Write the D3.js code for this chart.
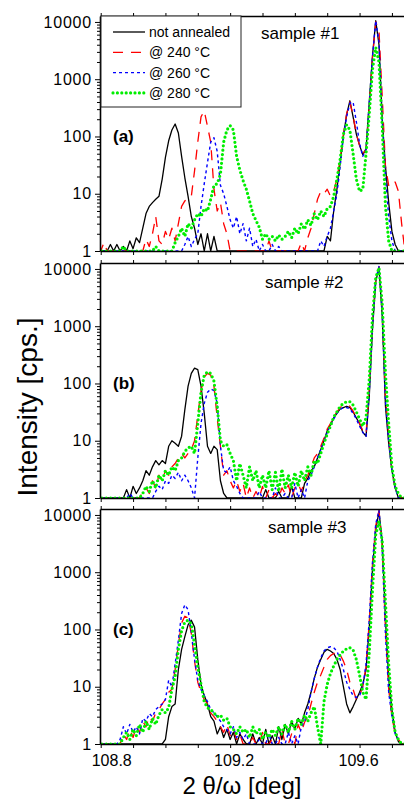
<!DOCTYPE html>
<html>
<head>
<meta charset="utf-8">
<script src="https://cdn.jsdelivr.net/npm/d3@7"></script>
<style>
  body { margin: 0; background: #fff; }
  svg { display: block; font-family: "Liberation Sans", Arial, sans-serif; }
</style>
</head>
<body>
<svg id="chart" width="404" height="800"></svg>
<script>
// measurement grid, 2theta/omega in degrees
const twoTheta = [
  108.79, 108.80, 108.81, 108.82, 108.83, 108.84, 108.85, 108.86, 108.87, 108.88,
  108.89, 108.90, 108.91, 108.92, 108.93, 108.94, 108.95, 108.96, 108.97, 108.98,
  108.99, 109.00, 109.01, 109.02, 109.03, 109.04, 109.05, 109.06, 109.07, 109.08,
  109.09, 109.10, 109.11, 109.12, 109.13, 109.14, 109.15, 109.16, 109.17, 109.18,
  109.19, 109.20, 109.21, 109.22, 109.23, 109.24, 109.25, 109.26, 109.27, 109.28,
  109.29, 109.30, 109.31, 109.32, 109.33, 109.34, 109.35, 109.36, 109.37, 109.38,
  109.39, 109.40, 109.41, 109.42, 109.43, 109.44, 109.45, 109.46, 109.47, 109.48,
  109.49, 109.50, 109.51, 109.52, 109.53, 109.54, 109.55, 109.56, 109.57, 109.58,
  109.59, 109.60, 109.61, 109.62, 109.63, 109.64, 109.65, 109.66, 109.67, 109.68,
  109.69, 109.70, 109.71, 109.72, 109.73, 109.74
];

const seriesNames = ['not annealed', '@ 240 °C', '@ 260 °C', '@ 280 °C'];
const sampleNames = ['sample #1', 'sample #2', 'sample #3'];
const panelTags = ['(a)', '(b)', '(c)'];
const yTickValues = [1, 10, 100, 1000, 10000];
const xTickValues = [108.8, 108.9, 109.0, 109.1, 109.2, 109.3, 109.4, 109.5, 109.6, 109.7];
const xLabelValues = [108.8, 109.2, 109.6];

// sample #1 intensities [cps.]
const aBlack = [
  1, 1, 1, 1, 1.3, 1, 1.3, 1, 1.2, 1,
  1.5, 1.1, 1.7, 1.4, 2.5, 4.5, 6, 7, 8, 9,
  18, 43, 84, 130, 165, 115, 45, 19, 9, 4,
  2.5, 1.3, 2, 1, 2, 1, 1.8, 1, 1, 1,
  1, 1, 1, 1, 1, 1, 1, 1, 1, 1,
  1, 1, 1, 1, 1, 1, 1, 1, 1, 1,
  1, 1, 1, 1, 1, 1, 1, 1, 1, 1,
  1, 1.8, 1.5, 5, 12, 35, 100, 240, 420, 220,
  110, 70, 48, 60, 400, 2600, 10500, 4000, 200, 30,
  7, 2.2, 1.3, 1, 1, 1
];
const aRed = [
  1, 1, 1.4, 1, 1, 1, 1, 1, 1, 1,
  1, 1, 1, 1, 1, 1.6, 1.2, 2, 4, 1.5,
  1.3, 2.2, 1.6, 2.5, 1.5, 3, 6, 7.5, 8, 9,
  25, 80, 220, 280, 150, 80, 12, 5, 7, 3,
  2, 1, 1, 1, 1, 1, 1, 1, 1, 1,
  1, 1, 1, 1.5, 1, 1, 1, 1, 1, 1,
  1, 1, 1, 1.4, 1, 1.7, 2.5, 4.5, 8, 11,
  10, 12, 9, 11, 18, 40, 110, 250, 400, 230,
  110, 70, 50, 60, 350, 2400, 10000, 7000, 500, 30,
  14, 17, 16, 11, 3, 1
];
const aBlue = [
  1, 1, 1, 1, 1, 1, 1, 1, 1, 1,
  1, 1, 1, 1, 1, 1, 1, 1, 1, 1,
  1, 1, 1, 1, 1, 1, 1, 1.3, 1.8, 1.2,
  1.6, 2, 6, 15, 35, 80, 95, 55, 14, 10,
  6, 3.5, 2.5, 4, 2, 3, 1.5, 2.5, 1.2, 1.6,
  1, 1.3, 1, 1, 1.3, 1, 1.2, 1, 1, 1,
  1, 1, 1, 1, 1, 1, 1, 1, 1, 1.5,
  1.2, 1.8, 2.5, 5, 10, 30, 100, 220, 380, 400,
  180, 75, 45, 60, 380, 2500, 10500, 4500, 200, 20,
  4, 1.5, 1, 1, 1, 1
];
const aGreen = [
  1, 1, 1, 1, 1, 1, 1, 1, 1.2, 1,
  1, 1, 1, 1, 1, 1, 1, 1, 1.2, 1,
  1, 1, 1, 1, 1.4, 1.8, 2.5, 1.8, 3, 2.5,
  3.5, 4.5, 4, 5.5, 5, 8, 14, 15, 22, 80,
  130, 155, 130, 45, 26, 17, 12, 7.5, 4.5, 3.4,
  2.6, 1.6, 2, 1.6, 1.8, 1.5, 1.9, 1.6, 1.8, 2.2,
  1.7, 2.5, 2, 3, 2.4, 3.5, 2.8, 4.5, 3.5, 5,
  4, 5.5, 6, 9, 18, 40, 110, 160, 130, 50,
  18, 11, 12, 50, 250, 1500, 3600, 2000, 150, 6,
  1.5, 1, 1, 1, 1, 1
];

// sample #2
const bBlack = [
  1, 1, 1, 1, 1, 1, 1, 1, 1, 1.4,
  1, 1.6, 1.2, 1.5, 2, 3, 2.5, 3.5, 4.5, 3.8,
  4.5, 4, 8, 10, 9, 8, 12, 35, 90, 150,
  185, 175, 90, 30, 8, 6, 8, 7, 2, 1.2,
  1, 1, 1, 1, 1, 1, 1, 1, 1, 1,
  1, 1, 1.4, 1, 1, 1, 1.3, 1, 1, 1,
  1.6, 1, 1, 1, 1.8, 2.2, 3, 3.5, 5, 7,
  10, 15, 19, 25, 30, 36, 38, 40, 38, 32,
  25, 20, 14, 12, 60, 900, 6000, 10500, 1500, 40,
  9, 3, 1.5, 1, 1, 1
];
const bRed = [
  1, 1, 1, 1, 1, 1, 1, 1, 1, 1,
  1, 1, 1, 1, 1.3, 1.5, 1.2, 2, 1.5, 2.5,
  2, 3, 2.5, 3.5, 4, 5, 6, 5, 6, 7,
  10, 28, 75, 130, 150, 140, 90, 25, 8, 2.5,
  3, 2, 1.5, 2, 1.3, 1.8, 1, 1.5, 1, 1.3,
  1, 1.6, 1, 1.4, 1, 1.2, 1, 1.5, 1.2, 1.7,
  1, 1.5, 1.8, 1.3, 2, 2.5, 3.5, 5, 6, 8,
  11, 16, 20, 26, 32, 38, 42, 42, 40, 33,
  25, 20, 15, 13, 80, 1100, 6500, 11000, 2000, 60,
  12, 3, 1.5, 1.2, 1, 1
];
const bBlue = [
  1, 1, 1, 1, 1, 1, 1, 1, 1, 1,
  1.2, 1, 1, 1, 1, 1, 1, 1, 1.3, 1.6,
  1.4, 2, 1.8, 2.5, 2.2, 2.8, 2, 2.5, 2, 1.5,
  1, 5, 20, 45, 70, 80, 75, 45, 8, 3,
  2.8, 3.5, 2, 1.6, 1.2, 1, 1, 1, 1, 1,
  1.3, 1, 1, 1, 1, 1.5, 1, 1, 1.2, 1,
  1, 1.8, 1, 1.4, 1, 2, 2.5, 3.5, 5, 7,
  10, 14, 19, 24, 30, 35, 38, 38, 36, 30,
  24, 18, 14, 12, 70, 1000, 6500, 11000, 1800, 50,
  10, 3, 1.5, 1, 1, 1
];
const bGreen = [
  1, 1, 1, 1, 1, 1, 1, 1, 1, 1,
  1, 1, 1, 1, 1.2, 1.6, 1.3, 2, 1.5, 2.5,
  2, 3, 2.5, 3.5, 3, 4.5, 5, 6.5, 7.5, 8,
  6, 20, 70, 140, 160, 150, 110, 40, 10, 8,
  8.5, 6, 4.5, 2, 4, 2.5, 1.5, 3.5, 2, 3,
  1.5, 2.5, 1.5, 3, 1.4, 2.8, 1.3, 3.2, 1.5, 2.5,
  1.5, 2.8, 1.6, 3, 2, 3.5, 2.5, 4.5, 4, 6,
  9, 13, 18, 26, 32, 40, 45, 48, 48, 42,
  32, 24, 18, 25, 120, 1500, 7000, 10500, 2500, 150,
  20, 3.5, 1.6, 1.2, 1, 1
];

// sample #3
const cBlack = [
  1, 1, 1, 1, 1, 1, 1, 1, 1, 1,
  1, 1, 1, 1, 1, 1, 1, 1, 1, 1,
  1, 1.2, 3, 4.5, 5, 20, 45, 75, 120, 145,
  110, 30, 11, 7, 5, 3, 2.5, 1.5, 2, 1.3,
  1.8, 1.2, 1.6, 1, 1.5, 1.2, 1, 1, 1.5, 1,
  1.3, 1, 1.8, 1, 1.4, 1, 2, 1.2, 2.2, 1.5,
  2.5, 1.8, 2.8, 2.2, 3.5, 5, 8, 14, 22, 30,
  40, 45, 42, 38, 30, 20, 10, 5, 3.5, 4.5,
  6, 8, 11, 20, 110, 1200, 5500, 11500, 3500, 150,
  14, 4, 1.6, 1.1, 1, 1
];
const cRed = [
  1, 1, 1, 1, 1, 1, 1, 1, 1.5, 1.2,
  1.8, 1.3, 2, 1.6, 2.5, 2, 3, 2.5, 3.5, 4,
  5, 6, 8, 9, 20, 55, 130, 170, 160, 85,
  28, 12, 8, 6, 5, 3.5, 3, 2.5, 2, 1.6,
  2.2, 1.4, 1.8, 1.2, 1.5, 1, 1, 1, 1.3, 1,
  1, 1.6, 1, 1, 1.2, 1, 1, 1.8, 1, 1,
  1.5, 1, 2.2, 1.6, 2.4, 3, 5, 8, 12, 16,
  22, 30, 35, 38, 40, 36, 28, 20, 12, 9,
  6, 7, 10, 22, 140, 1400, 6500, 12000, 2800, 100,
  9, 3, 1.5, 1.2, 1, 1
];
const cBlue = [
  1, 1, 1, 1, 1, 1, 1, 1.2, 2, 1.5,
  2.2, 1.6, 2, 1.5, 2.8, 2.5, 3.4, 3, 4, 4.5,
  5, 6, 13, 10, 25, 65, 190, 270, 220, 90,
  30, 13, 9, 7, 5.5, 4, 3.5, 3, 2.5, 2,
  1.8, 1.5, 2, 1.3, 1.6, 1.2, 1.5, 1, 1, 1,
  1.2, 1, 1, 1.5, 1, 1, 1.3, 1, 1, 1.6,
  1, 1.4, 1, 2, 2.5, 4, 8, 14, 22, 32,
  42, 48, 50, 48, 42, 30, 20, 12, 9, 7,
  6.5, 7, 10, 25, 150, 1500, 7000, 12000, 2500, 80,
  8, 3, 1.5, 1.2, 1, 1
];
const cGreen = [
  1, 1, 1, 1, 1, 1, 1, 1, 1.3, 1.6,
  1.2, 1.8, 1.4, 2.2, 1.6, 2.5, 1.8, 2.8, 2.2, 3.2,
  4, 3.5, 4.3, 9, 15, 45, 95, 135, 145, 125,
  55, 22, 11, 5.5, 4.3, 4, 3.5, 3, 3.2, 2.6,
  2.8, 2, 1.8, 1.5, 2, 1.6, 1.8, 1.3, 2, 1.5,
  1.8, 1.2, 1.6, 1.3, 1.8, 1.4, 2, 1.5, 2.2, 1.6,
  2.5, 1.8, 2.8, 2.2, 3.2, 2.5, 3.5, 4.5, 2, 1,
  5.5, 11, 17, 23, 30, 36, 42, 46, 48, 44,
  30, 16, 8, 6, 40, 500, 4500, 7800, 3500, 300,
  25, 4, 1.6, 1.2, 1, 1
];

const panelData = [
  [aBlack, aRed, aBlue, aGreen],
  [bBlack, bRed, bBlue, bGreen],
  [cBlack, cRed, cBlue, cGreen],
];

// line styles, same order as seriesNames
const styles = [
  { color: '#000000', width: 1.3, dash: null, cap: 'butt' },
  { color: '#ff0000', width: 1.3, dash: '10 8', cap: 'butt' },
  { color: '#0000ff', width: 1.4, dash: '3 3', cap: 'butt' },
  { color: '#00ee00', width: 3.2, dash: '0 4.4', cap: 'round' },
];

const svg = d3.select('#chart');
const plotLeft = 100;
const plotRight = 404;
const panelH = 235;
const panelTops = [16, 263, 509];

const x = d3.scaleLinear().domain([108.7978, 109.7373]).range([plotLeft, plotRight]);

const minorTicks = [];
[1, 10, 100, 1000].forEach((dec) => {
  for (let k = 2; k <= 9; k++) minorTicks.push(dec * k);
});

panelData.forEach((series, p) => {
  const top = panelTops[p];
  const bottom = top + panelH;
  const y = d3.scaleLog().domain([1, 12700]).range([bottom, top]).clamp(true);

  const clipId = `clip-${p}`;
  svg.append('clipPath').attr('id', clipId)
    .append('rect')
    .attr('x', plotLeft).attr('y', top - 1)
    .attr('width', plotRight - plotLeft + 5).attr('height', panelH + 1);

  const line = d3.line()
    .x((d, i) => x(twoTheta[i]))
    .y((d) => y(d));

  const g = svg.append('g').attr('clip-path', `url(#${clipId})`);
  series.forEach((vals, s) => {
    const st = styles[s];
    g.append('path')
      .datum(vals)
      .attr('d', line)
      .attr('fill', 'none')
      .attr('stroke', st.color)
      .attr('stroke-width', st.width)
      .attr('stroke-dasharray', st.dash)
      .attr('stroke-linecap', st.cap)
      .attr('stroke-linejoin', 'round');
  });

  // left axis, major + minor ticks
  const yAxis = svg.append('g')
    .attr('transform', `translate(${plotLeft},0)`)
    .call(d3.axisLeft(y).tickValues(yTickValues).tickFormat(d3.format('d')).tickSize(5).tickSizeOuter(0).tickPadding(3));
  yAxis.selectAll('text')
    .attr('font-size', 16)
    .attr('letter-spacing', 0.8)
    .attr('font-family', '"Liberation Sans", Arial, sans-serif')
    .attr('fill', '#000');
  svg.append('g')
    .attr('transform', `translate(${plotLeft},0)`)
    .call(d3.axisLeft(y).tickValues(minorTicks).tickFormat('').tickSize(3).tickSizeOuter(0))
    .select('.domain').remove();

  // bottom axis
  svg.append('g')
    .attr('transform', `translate(0,${bottom})`)
    .call(d3.axisBottom(x).tickValues(xTickValues).tickFormat('').tickSize(4).tickSizeOuter(0));

  // top border with small ticks
  svg.append('g')
    .attr('transform', `translate(0,${top})`)
    .call(d3.axisTop(x).tickValues(xTickValues).tickFormat('').tickSize(3).tickSizeOuter(0));

  svg.selectAll('.domain').attr('stroke', '#000').attr('stroke-width', 1.6);
  svg.selectAll('.tick line').attr('stroke', '#000').attr('stroke-width', 1);

  // panel tag and sample name
  svg.append('text')
    .attr('x', 113).attr('y', y(100) + 6)
    .attr('font-size', 17).attr('font-weight', 'bold')
    .text(panelTags[p]);
  svg.append('text')
    .attr('x', [261, 265, 268][p]).attr('y', top + [23, 25, 24][p])
    .attr('font-size', 17)
    .text(sampleNames[p]);

  if (p === 2) {
    svg.append('g').selectAll('text')
      .data(xLabelValues)
      .enter()
      .append('text')
      .attr('x', (d, i) => x(d) + [11, 4, -1][i])
      .attr('y', bottom + 22)
      .attr('text-anchor', 'middle')
      .attr('font-size', 16)
      .text((d) => d3.format('.1f')(d));
  }
});

// legend (inside panel a)
const legend = svg.append('g');
legend.append('rect')
  .attr('x', 101).attr('y', 16)
  .attr('width', 140).attr('height', 91)
  .attr('fill', '#fff')
  .attr('stroke', '#222').attr('stroke-width', 1);
seriesNames.forEach((name, i) => {
  const ly = 32 + i * 20.3;
  const st = styles[i];
  legend.append('line')
    .attr('x1', 113).attr('x2', 145)
    .attr('y1', ly).attr('y2', ly)
    .attr('stroke', st.color)
    .attr('stroke-width', st.width)
    .attr('stroke-dasharray', st.dash)
    .attr('stroke-linecap', st.cap);
  legend.append('text')
    .attr('x', 149).attr('y', ly + 5)
    .attr('font-size', 14)
    .text(name);
});

// axis titles
svg.append('text')
  .attr('transform', 'translate(37,407) rotate(-90)')
  .attr('text-anchor', 'middle')
  .attr('font-size', 28)
  .text('Intensity [cps.]');
svg.append('text')
  .attr('x', 242).attr('y', 794)
  .attr('text-anchor', 'middle')
  .attr('font-size', 24)
  .text('2 θ/ω [deg]');
</script>
</body>
</html>
